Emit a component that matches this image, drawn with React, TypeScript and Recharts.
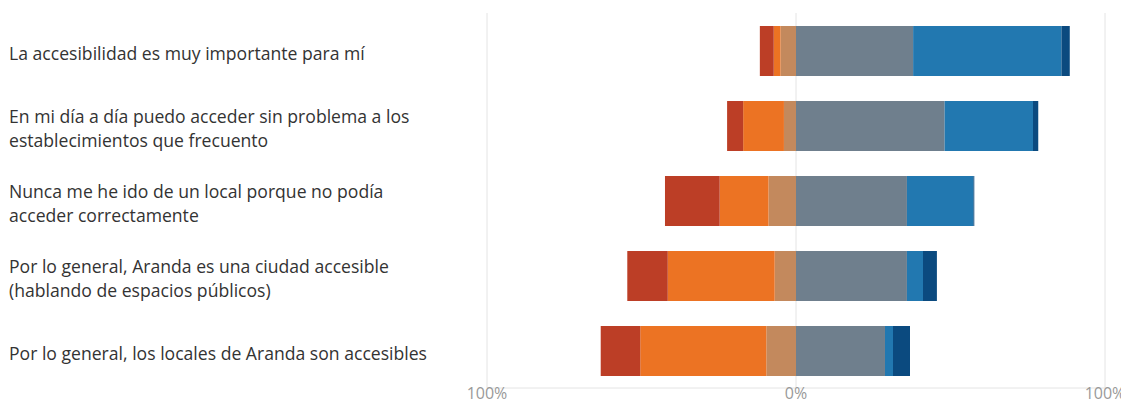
import React from "react";
import { BarChart, Bar, XAxis, YAxis, CartesianGrid } from "recharts";

const categories: string[] = [
  "La accesibilidad es muy importante para mí",
  "En mi día a día puedo acceder sin problema a los\nestablecimientos que frecuento",
  "Nunca me he ido de un local porque no podía\nacceder correctamente",
  "Por lo general, Aranda es una ciudad accesible\n(hablando de espacios públicos)",
  "Por lo general, los locales de Aranda son accesibles",
];

const muyDesacuerdo = [4.5, 5.2, 17.7, 13.1, 12.8];
const desacuerdo = [2.2, 13.2, 15.8, 34.6, 40.8];
const algoDesacuerdo = [5.0, 3.9, 8.9, 6.9, 9.6];
const algoAcuerdo = [37.9, 48.1, 35.9, 35.9, 28.8];
const acuerdo = [48.0, 28.6, 21.5, 5.2, 2.6];
const muyAcuerdo = [2.7, 1.7, 0.3, 4.5, 5.5];

const xTicks = [-100, 0, 100];

const data = categories.map((name, i) => ({
  name,
  algoDesacuerdo: -algoDesacuerdo[i],
  desacuerdo: -desacuerdo[i],
  muyDesacuerdo: -muyDesacuerdo[i],
  algoAcuerdo: algoAcuerdo[i],
  acuerdo: acuerdo[i],
  muyAcuerdo: muyAcuerdo[i],
}));

const FONT = "'Open Sans', 'Noto Sans', sans-serif";

const CategoryTick = (props: any) => {
  const { y, payload } = props;
  const lines = String(payload.value).split("\n");
  const lh = 24;
  const start = -((lines.length - 1) / 2) * lh + 2;
  return (
    <text
      x={1}
      y={y}
      textAnchor="start"
      fill="#333333"
      fontSize={17.6}
      fontFamily={FONT}
      dominantBaseline="central"
    >
      {lines.map((l, i) => (
        <tspan key={i} x={1} y={y + start + i * lh}>
          {l}
        </tspan>
      ))}
    </text>
  );
};

export default function App() {
  return (
    <BarChart
      width={1121}
      height={395}
      data={data}
      layout="vertical"
      stackOffset="sign"
      barSize={50}
      margin={{ top: 5, right: 24, bottom: 0, left: 0 }}
    >
      <CartesianGrid horizontal={false} stroke="#e4e4e4" />
      <XAxis
        type="number"
        domain={[-100, 100]}
        ticks={xTicks}
        tickFormatter={(v: number) => `${Math.abs(v)}%`}
        axisLine={{ stroke: "#e4e4e4" }}
        tickLine={false}
        tickSize={0}
        tickMargin={0}
        height={15}
        tick={{ fill: "#999999", fontSize: 16, fontFamily: FONT, dy: 0 }}
      />
      <YAxis
        type="category"
        dataKey="name"
        width={479}
        axisLine={false}
        tickLine={false}
        tick={<CategoryTick />}
        interval={0}
      />
      <Bar dataKey="algoDesacuerdo" name="Algo en desacuerdo" stackId="a" fill="#C3895D" isAnimationActive={false} />
      <Bar dataKey="desacuerdo" name="En desacuerdo" stackId="a" fill="#EC7323" isAnimationActive={false} />
      <Bar dataKey="muyDesacuerdo" name="Muy en desacuerdo" stackId="a" fill="#BC3E26" isAnimationActive={false} />
      <Bar dataKey="algoAcuerdo" name="Algo de acuerdo" stackId="a" fill="#6F7F8D" isAnimationActive={false} />
      <Bar dataKey="acuerdo" name="De acuerdo" stackId="a" fill="#2278B0" isAnimationActive={false} />
      <Bar dataKey="muyAcuerdo" name="Muy de acuerdo" stackId="a" fill="#0B4A7F" isAnimationActive={false} />
    </BarChart>
  );
}
